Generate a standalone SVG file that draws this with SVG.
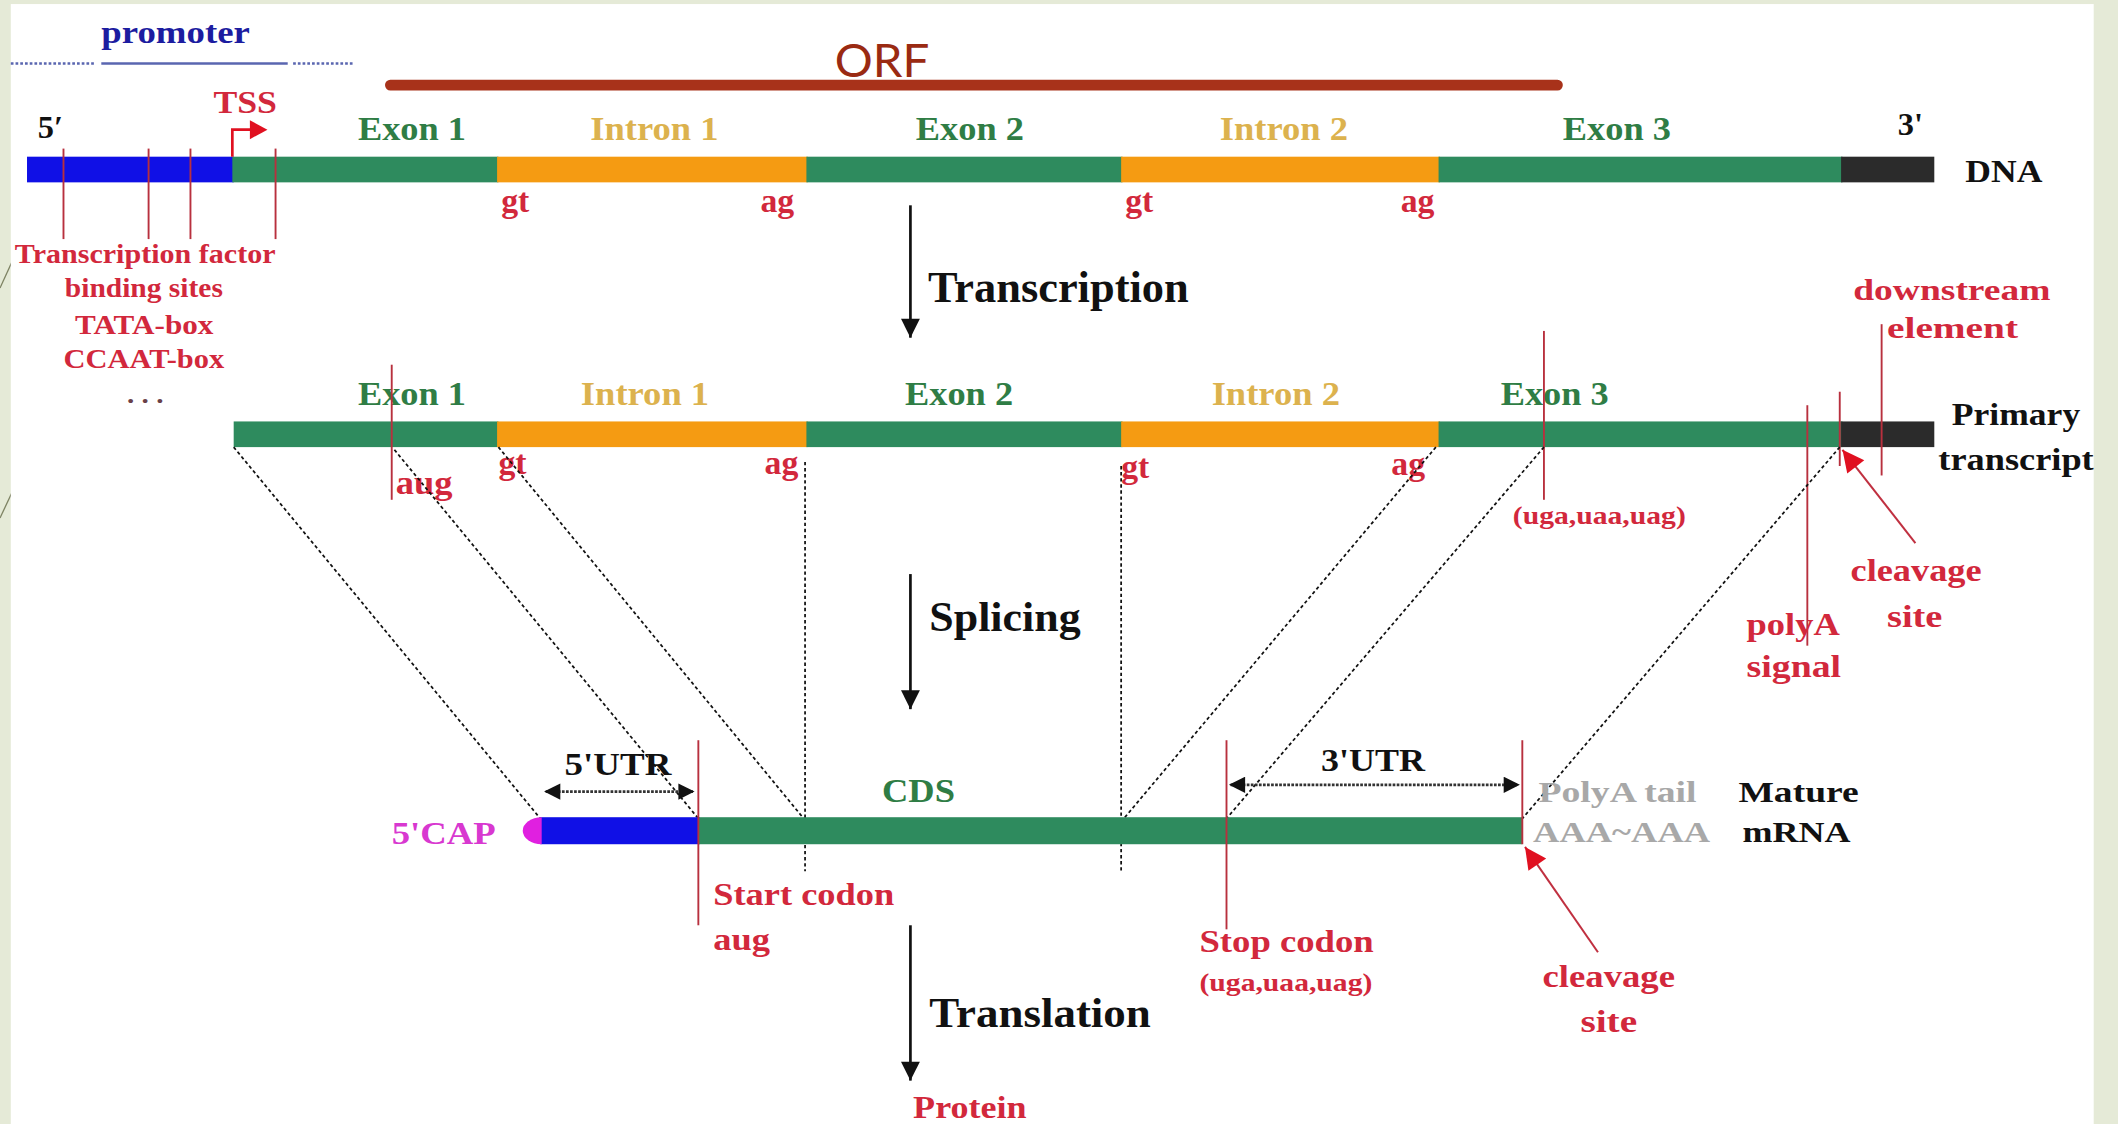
<svg xmlns="http://www.w3.org/2000/svg" width="2118" height="1124" viewBox="0 0 2118 1124">
<defs>
<style>
.t{font-family:"Liberation Serif","Times New Roman",serif;font-weight:bold}
.red{fill:#d2283c}
.blk{fill:#111}
.grn{fill:#2f7d45}
.tan{fill:#dcb24e}
.gry{fill:#a8a8a8}
.rl{stroke:#b8303e;stroke-width:1.4;fill:none}
.dl{stroke:#111;stroke-width:1.3;stroke-dasharray:2.5 2;fill:none}
.ar{stroke:#111;stroke-width:2;fill:none}
</style>
<marker id="bigh" viewBox="0 0 10 10" refX="10" refY="5" markerWidth="20" markerHeight="14" markerUnits="userSpaceOnUse" orient="auto"><path d="M0,0 L10,5 L0,10 Z" fill="#111"/></marker>
<marker id="rh" viewBox="0 0 10 10" refX="10" refY="5" markerWidth="18" markerHeight="16" markerUnits="userSpaceOnUse" orient="auto"><path d="M0,0 L10,5 L0,10 Z" fill="#e01020"/></marker>
<marker id="dh" viewBox="0 0 10 10" refX="9" refY="5" markerWidth="14" markerHeight="12" markerUnits="userSpaceOnUse" orient="auto-start-reverse"><path d="M0,0 L10,5 L0,10 Z" fill="#111"/></marker>
</defs>
<rect x="0" y="0" width="2118" height="1124" fill="#e5ead7"/>
<line x1="22" y1="240" x2="0" y2="288" stroke="#7d8262" stroke-width="1.3"/>
<line x1="16" y1="484" x2="0" y2="518" stroke="#7d8262" stroke-width="1.3"/>
<g transform="scale(1.35077)">
<rect x="8" y="3" width="1542" height="832" fill="#ffffff"/>

<g id="promoter">
<text class="t" x="75" y="32" font-size="24" textLength="110" lengthAdjust="spacingAndGlyphs" fill="#1c1ca0">promoter</text>
<line x1="8" y1="47" x2="70" y2="47" stroke="#5a66b0" stroke-width="2" stroke-dasharray="2 1.5"/>
<line x1="75" y1="47" x2="213" y2="47" stroke="#5a66b0" stroke-width="2"/>
<line x1="217" y1="47" x2="262" y2="47" stroke="#5a66b0" stroke-width="2" stroke-dasharray="2 1.5"/>
</g>

<g id="orf">
<text x="618" y="57" font-size="34" textLength="70" lengthAdjust="spacingAndGlyphs" fill="#9a2a12" font-family="Lato,'Open Sans',sans-serif">ORF</text>
<line x1="289" y1="63" x2="1153" y2="63" stroke="#a8321a" stroke-width="8" stroke-linecap="round"/>
</g>

<g id="dna">
<rect x="20" y="116" width="153" height="19" fill="#1010e6"/>
<rect x="172" y="116" width="197" height="19" fill="#2e8b5e"/>
<rect x="368" y="116" width="230" height="19" fill="#f59b12"/>
<rect x="597" y="116" width="234" height="19" fill="#2e8b5e"/>
<rect x="830" y="116" width="236" height="19" fill="#f59b12"/>
<rect x="1065" y="116" width="299" height="19" fill="#2e8b5e"/>
<rect x="1363" y="116" width="69" height="19" fill="#2b2b2b"/>
<text class="t blk" x="28" y="102" font-size="24">5′</text>
<text class="t red" x="158" y="84" font-size="23" textLength="47" lengthAdjust="spacingAndGlyphs">TSS</text>
<path d="M172,116 V96 H186" stroke="#e01020" stroke-width="2" fill="none"/>
<path d="M185,89 L198,96 L185,103 Z" fill="#e01020"/>
<text class="t grn" x="265" y="104" font-size="25" textLength="80" lengthAdjust="spacingAndGlyphs">Exon 1</text>
<text class="t tan" x="437" y="104" font-size="25" textLength="95" lengthAdjust="spacingAndGlyphs">Intron 1</text>
<text class="t grn" x="678" y="104" font-size="25" textLength="80" lengthAdjust="spacingAndGlyphs">Exon 2</text>
<text class="t tan" x="903" y="104" font-size="25" textLength="95" lengthAdjust="spacingAndGlyphs">Intron 2</text>
<text class="t grn" x="1157" y="104" font-size="25" textLength="80" lengthAdjust="spacingAndGlyphs">Exon 3</text>
<text class="t blk" x="1405" y="100" font-size="24">3'</text>
<text class="t blk" x="1455" y="135" font-size="24" textLength="57" lengthAdjust="spacingAndGlyphs">DNA</text>
<text class="t red" x="371" y="157" font-size="25">gt</text>
<text class="t red" x="563" y="157" font-size="25">ag</text>
<text class="t red" x="833" y="157" font-size="25">gt</text>
<text class="t red" x="1037" y="157" font-size="25">ag</text>
<line class="rl" x1="47" y1="110" x2="47" y2="177"/>
<line class="rl" x1="110" y1="110" x2="110" y2="177"/>
<line class="rl" x1="141" y1="110" x2="141" y2="177"/>
<line class="rl" x1="204" y1="110" x2="204" y2="177"/>
<text class="t red" x="11" y="194.5" font-size="21" textLength="193" lengthAdjust="spacingAndGlyphs">Transcription factor</text>
<text class="t red" x="48" y="220" font-size="21" textLength="117" lengthAdjust="spacingAndGlyphs">binding sites</text>
<text class="t red" x="55.5" y="247" font-size="21" textLength="102.5" lengthAdjust="spacingAndGlyphs">TATA-box</text>
<text class="t red" x="47" y="272.5" font-size="21" textLength="119" lengthAdjust="spacingAndGlyphs">CCAAT-box</text>
<text class="t" x="94" y="298" font-size="18" textLength="27" lengthAdjust="spacingAndGlyphs" fill="#6a4048">. . .</text>
</g>

<g id="transcription">
<line class="ar" x1="674" y1="152" x2="674" y2="250" marker-end="url(#bigh)"/>
<text class="t blk" x="687" y="223.5" font-size="32.5" textLength="193" lengthAdjust="spacingAndGlyphs">Transcription</text>
</g>

<g id="primary">
<rect x="173" y="312" width="196" height="19" fill="#2e8b5e"/>
<rect x="368" y="312" width="230" height="19" fill="#f59b12"/>
<rect x="597" y="312" width="234" height="19" fill="#2e8b5e"/>
<rect x="830" y="312" width="236" height="19" fill="#f59b12"/>
<rect x="1065" y="312" width="299" height="19" fill="#2e8b5e"/>
<rect x="1363" y="312" width="69" height="19" fill="#2b2b2b"/>
<text class="t grn" x="265" y="300" font-size="25" textLength="80" lengthAdjust="spacingAndGlyphs">Exon 1</text>
<text class="t tan" x="430" y="300" font-size="25" textLength="95" lengthAdjust="spacingAndGlyphs">Intron 1</text>
<text class="t grn" x="670" y="300" font-size="25" textLength="80" lengthAdjust="spacingAndGlyphs">Exon 2</text>
<text class="t tan" x="897" y="300" font-size="25" textLength="95" lengthAdjust="spacingAndGlyphs">Intron 2</text>
<text class="t grn" x="1111" y="300" font-size="25" textLength="80" lengthAdjust="spacingAndGlyphs">Exon 3</text>
<text class="t blk" x="1445" y="315" font-size="24" textLength="95" lengthAdjust="spacingAndGlyphs">Primary</text>
<text class="t blk" x="1435" y="348" font-size="24" textLength="115" lengthAdjust="spacingAndGlyphs">transcript</text>
<line class="rl" x1="290" y1="270" x2="290" y2="370"/>
<text class="t red" x="293" y="366" font-size="25" textLength="42" lengthAdjust="spacingAndGlyphs">aug</text>
<text class="t red" x="369" y="351" font-size="25">gt</text>
<text class="t red" x="566" y="351" font-size="25">ag</text>
<text class="t red" x="830" y="354" font-size="25">gt</text>
<text class="t red" x="1030" y="352" font-size="25">ag</text>
<line class="rl" x1="1143" y1="245" x2="1143" y2="370"/>
<text class="t red" x="1120" y="388" font-size="19" textLength="128" lengthAdjust="spacingAndGlyphs">(uga,uaa,uag)</text>
<line class="rl" x1="1338" y1="300" x2="1338" y2="478"/>
<text class="t red" x="1293" y="470" font-size="24" textLength="69" lengthAdjust="spacingAndGlyphs">polyA</text>
<text class="t red" x="1293" y="501" font-size="24" textLength="70" lengthAdjust="spacingAndGlyphs">signal</text>
<line class="rl" x1="1362" y1="290" x2="1362" y2="345"/>
<line x1="1418" y1="402" x2="1364" y2="333" stroke="#c03040" stroke-width="1.5" marker-end="url(#rh)"/>
<text class="t red" x="1370" y="430" font-size="24" textLength="97" lengthAdjust="spacingAndGlyphs">cleavage</text>
<text class="t red" x="1397" y="464" font-size="24" textLength="41" lengthAdjust="spacingAndGlyphs">site</text>
<line class="rl" x1="1393" y1="240" x2="1393" y2="352"/>
<text class="t red" x="1372" y="222" font-size="22" textLength="146" lengthAdjust="spacingAndGlyphs">downstream</text>
<text class="t red" x="1397" y="250" font-size="22" textLength="97" lengthAdjust="spacingAndGlyphs">element</text>
</g>

<g id="splicing">
<line class="ar" x1="674" y1="425" x2="674" y2="525" marker-end="url(#bigh)"/>
<text class="t blk" x="688" y="467" font-size="32" textLength="112" lengthAdjust="spacingAndGlyphs">Splicing</text>
</g>

<g id="connectors">
<line class="dl" x1="173" y1="331" x2="400" y2="606"/>
<line class="dl" x1="292" y1="333" x2="517" y2="606"/>
<line class="dl" x1="369" y1="331" x2="595" y2="606"/>
<line class="dl" x1="596" y1="342" x2="596" y2="645"/>
<line class="dl" x1="830" y1="345" x2="830" y2="645"/>
<line class="dl" x1="1063" y1="331" x2="832" y2="606"/>
<line class="dl" x1="1143" y1="331" x2="908" y2="606"/>
<line class="dl" x1="1362" y1="331" x2="1127" y2="606"/>
</g>

<g id="mrna">
<rect x="400" y="605" width="118" height="20" fill="#1010e6"/>
<rect x="517" y="605" width="610" height="20" fill="#2e8b5e"/>
<path d="M401,605 A14,10 0 0 0 401,625 Z" fill="#e020e0"/>
<text class="t" x="290" y="625" font-size="24" textLength="77" lengthAdjust="spacingAndGlyphs" fill="#d838d0">5'CAP</text>
<line class="rl" x1="517" y1="548" x2="517" y2="685"/>
<text class="t blk" x="418" y="574" font-size="24" textLength="79" lengthAdjust="spacingAndGlyphs">5'UTR</text>
<line x1="404" y1="586" x2="513" y2="586" stroke="#333" stroke-width="2" stroke-dasharray="2 1" marker-start="url(#dh)" marker-end="url(#dh)"/>
<text class="t grn" x="653" y="594" font-size="25" textLength="54" lengthAdjust="spacingAndGlyphs">CDS</text>
<text class="t blk" x="978" y="571" font-size="24" textLength="77" lengthAdjust="spacingAndGlyphs">3'UTR</text>
<line x1="911" y1="581" x2="1124" y2="581" stroke="#333" stroke-width="2" stroke-dasharray="2 1" marker-start="url(#dh)" marker-end="url(#dh)"/>
<line class="rl" x1="908" y1="548" x2="908" y2="688"/>
<line class="rl" x1="1127" y1="548" x2="1127" y2="625"/>
<text class="t gry" x="1139" y="594" font-size="22" textLength="117" lengthAdjust="spacingAndGlyphs">PolyA tail</text>
<text class="t gry" x="1135" y="623" font-size="22" textLength="131" lengthAdjust="spacingAndGlyphs">AAA~AAA</text>
<text class="t blk" x="1287" y="594" font-size="22" textLength="89" lengthAdjust="spacingAndGlyphs">Mature</text>
<text class="t blk" x="1290" y="623" font-size="22" textLength="80" lengthAdjust="spacingAndGlyphs">mRNA</text>
<text class="t red" x="528" y="670" font-size="24" textLength="134" lengthAdjust="spacingAndGlyphs">Start codon</text>
<text class="t red" x="528" y="703" font-size="24" textLength="42" lengthAdjust="spacingAndGlyphs">aug</text>
<text class="t red" x="888" y="705" font-size="24" textLength="129" lengthAdjust="spacingAndGlyphs">Stop codon</text>
<text class="t red" x="888" y="734" font-size="19" textLength="128" lengthAdjust="spacingAndGlyphs">(uga,uaa,uag)</text>
<line x1="1183" y1="705" x2="1129" y2="627" stroke="#c03040" stroke-width="1.5" marker-end="url(#rh)"/>
<text class="t red" x="1142" y="731" font-size="24" textLength="98" lengthAdjust="spacingAndGlyphs">cleavage</text>
<text class="t red" x="1170" y="764" font-size="24" textLength="42" lengthAdjust="spacingAndGlyphs">site</text>
</g>

<g id="translation">
<line class="ar" x1="674" y1="685" x2="674" y2="800" marker-end="url(#bigh)"/>
<text class="t blk" x="688" y="760" font-size="32" textLength="164" lengthAdjust="spacingAndGlyphs">Translation</text>
<text class="t red" x="676" y="828" font-size="24" textLength="84" lengthAdjust="spacingAndGlyphs">Protein</text>
</g>
</g>
</svg>
